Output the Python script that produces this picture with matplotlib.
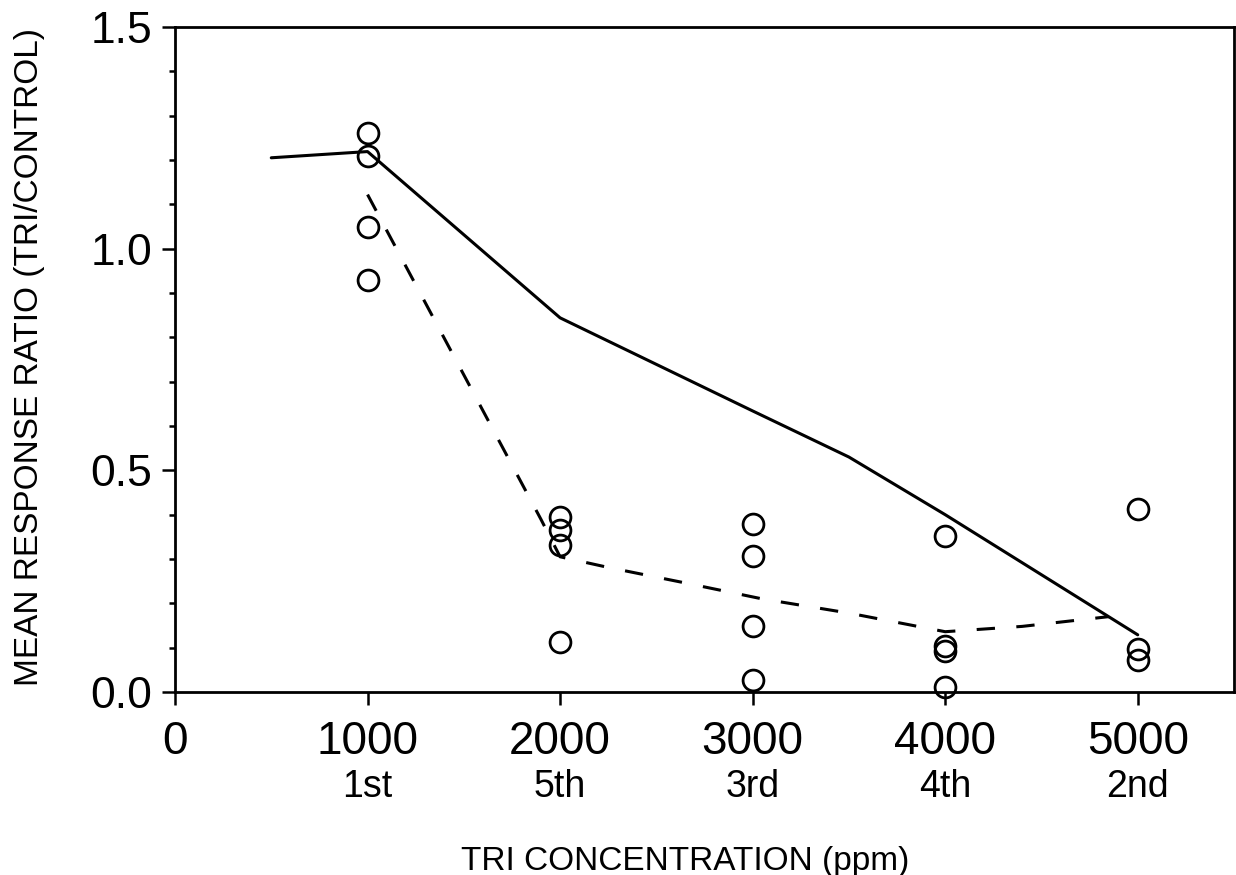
import matplotlib
matplotlib.use("Agg")
import matplotlib.pyplot as plt
import matplotlib.transforms as mtransforms
from matplotlib.ticker import MultipleLocator

# ---------------- data ----------------
concentrations = [1000, 2000, 3000, 4000, 5000]
session_order = ["1st", "5th", "3rd", "4th", "2nd"]

# individual response ratios (open circles)
pts_1000 = [1.262, 1.210, 1.050, 0.930]
pts_2000 = [0.395, 0.366, 0.332, 0.113]
pts_3000 = [0.379, 0.307, 0.149, 0.027]
pts_4000 = [0.352, 0.104, 0.093, 0.011]
pts_5000 = [0.413, 0.097, 0.072]

# solid curve
solid_x = [500, 1000, 2000, 3000, 3500, 4000, 5000]
solid_y = [1.205, 1.219, 0.844, 0.634, 0.530, 0.400, 0.129]

# dashed curve
dashed_x = [1000, 1900, 2000, 2250, 2650, 3050, 3500, 4000, 4400, 4850]
dashed_y = [1.122, 0.390, 0.305, 0.281, 0.246, 0.210, 0.178, 0.136, 0.148, 0.170]

x_ticks = [0, 1000, 2000, 3000, 4000, 5000]
y_ticks = [0.0, 0.5, 1.0, 1.5]
y_ticklabels = ["0.0", "0.5", "1.0", "1.5"]

# ---------------- figure ----------------
plt.rcParams['font.family'] = ['Liberation Sans', 'DejaVu Sans']
W, H = 1236, 875
fig = plt.figure(figsize=(W / 100, H / 100), dpi=100)
ax = fig.add_axes([175 / W, 183 / H, (1234 - 175) / W, 665 / H])

lw = 2.2
ax.plot(solid_x, solid_y, color='black', lw=lw, solid_capstyle='round')
ax.plot(dashed_x, dashed_y, color='black', lw=lw, dashes=(6, 7))

groups = [pts_1000, pts_2000, pts_3000, pts_4000, pts_5000]
for c, vals in zip(concentrations, groups):
    ax.plot([c] * len(vals), vals, linestyle='none', marker='o', ms=15,
            mfc='none', mec='black', mew=2.0, clip_on=False)

ax.set_xlim(0, 5500)
ax.set_ylim(0, 1.5)

ax.set_xticks(x_ticks)
ax.set_xticklabels([str(t) for t in x_ticks])
ax.set_yticks(y_ticks)
ax.set_yticklabels(y_ticklabels)
ax.yaxis.set_minor_locator(MultipleLocator(0.1))

ax.tick_params(axis='x', which='major', direction='out', length=9, width=1.8,
               labelsize=33, pad=11)
ax.tick_params(axis='y', which='major', direction='out', length=9.5, width=1.8,
               labelsize=32, pad=7)
ax.tick_params(axis='y', which='minor', direction='out', length=4, width=1.8)

for s in ax.spines.values():
    s.set_linewidth(2.0)

# session order labels under concentrations
trans = mtransforms.blended_transform_factory(ax.transData, ax.transAxes)
for c, lab in zip(concentrations, session_order):
    ax.text(c, -0.158, lab, transform=trans, ha='center', va='baseline',
            fontsize=27)

ax.set_xlabel("TRI CONCENTRATION (ppm)", fontsize=24, va='baseline')
ax.xaxis.set_label_coords(0.482, -0.268)
ax.set_ylabel("MEAN RESPONSE RATIO (TRI/CONTROL)", fontsize=24, va='center')
ax.yaxis.set_label_coords(-0.137, 0.504)

fig.savefig("out.png", dpi=100)
